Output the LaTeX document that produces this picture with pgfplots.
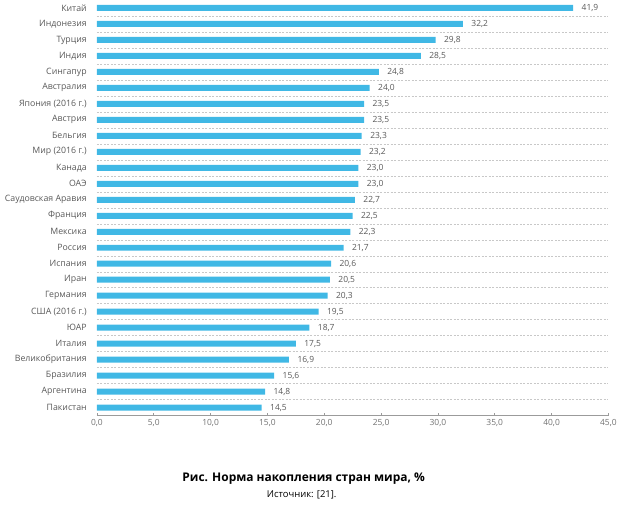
\documentclass[border=0pt]{standalone}
\usepackage{pgfplots}
\pgfplotsset{compat=1.18}
\usepackage{fontspec}
\setmainfont{Open Sans}
\definecolor{barblue}{RGB}{64,184,229}
\definecolor{labgray}{RGB}{89,89,89}
\definecolor{gridgray}{RGB}{200,200,200}

\pgfplotstableread{
y v
0 14.5
1 14.8
2 15.6
3 16.9
4 17.5
5 18.7
6 19.5
7 20.3
8 20.5
9 20.6
10 21.7
11 22.3
12 22.5
13 22.7
14 23.0
15 23.0
16 23.2
17 23.3
18 23.5
19 23.5
20 24.0
21 24.8
22 28.5
23 29.8
24 32.2
25 41.9
}\saving

\begin{document}
\begin{tikzpicture}
\begin{axis}[
  name=ax, scale only axis, width=512bp, height=416bp,
  xbar, bar width=6bp,
  xmin=0, xmax=45, ymin=-0.5, ymax=25.5,
  axis x line*=bottom, axis y line*=left,
  x axis line style={labgray!60, line width=0.6pt, -},
  y axis line style={draw=none},
  xtick={0,5,...,45}, xtick align=inside, major tick length=3bp,
  xtick style={labgray!60, line width=0.6pt},
  xticklabel style={font=\fontsize{8.5}{10}\selectfont, text=labgray!85},
  /pgf/number format/.cd, fixed, fixed zerofill, precision=1, use comma, assume math mode=true,
  /pgfplots/.cd,
  ytick={0.5,1.5,...,24.5}, yticklabels={}, ytick style={draw=none},
  ymajorgrids, major grid style={gridgray, dash pattern=on 2bp off 1.5bp, line width=0.45pt},
  clip=false,
]
\addplot[fill=barblue, draw=none,
  nodes near coords, nodes near coords align={horizontal},
  every node near coord/.append style={font=\fontsize{8.5}{10}\selectfont, text=labgray, xshift=5bp,
    /pgf/number format/.cd, fixed, fixed zerofill, precision=1, use comma, assume math mode=true}]
  table[x=v, y=y] {\saving};
\foreach \lab [count=\i from 0] in {Пакистан,Аргентина,Бразилия,Великобритания,Италия,ЮАР,США (2016 г.),Германия,Иран,Испания,Россия,Мексика,Франция,Саудовская Аравия,ОАЭ,Канада,Мир (2016 г.),Бельгия,Австрия,Япония (2016 г.),Австралия,Сингапур,Индия,Турция,Индонезия,Китай}{
  \edef\temp{\noexpand\node[anchor=east, font=\noexpand\fontsize{8.8}{10}\noexpand\selectfont, text=labgray, inner sep=0pt] at (axis cs:0,\i) [xshift=-10bp] {\lab};}
  \temp
}
\end{axis}
\useasboundingbox ([xshift=-97bp,yshift=-95bp]ax.south west) rectangle ([xshift=523bp,yshift=414bp]ax.south west);
\node[font=\bfseries\fontsize{12}{14}\selectfont] at ([xshift=207bp,yshift=-63bp]ax.south west) {Рис. Норма накопления стран мира, \%};
\node[font=\fontsize{9.5}{11}\selectfont] at ([xshift=205bp,yshift=-79bp]ax.south west) {Источник: [21].};
\end{tikzpicture}
\end{document}
